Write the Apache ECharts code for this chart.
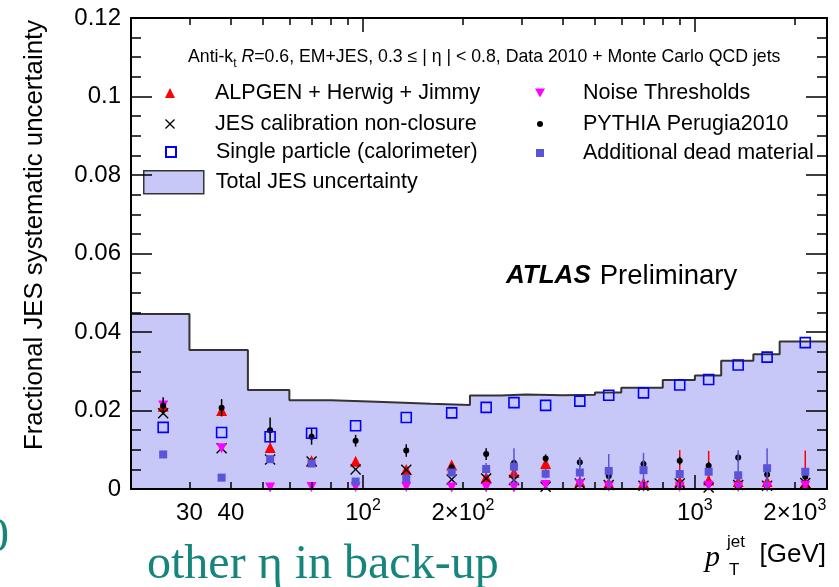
<!DOCTYPE html>
<html>
<head>
<meta charset="utf-8">
<script src="https://cdn.jsdelivr.net/npm/echarts@6/dist/echarts.min.js"></script>
<style>
  html, body { margin: 0; padding: 0; background: #fff; }
  #chart { width: 839px; height: 587px; }
</style>
</head>
<body>
<div id="chart"></div>
<script>
// pT bin edges and centres [GeV]
const ptEdges = [20, 30, 45, 60, 80, 110, 160, 210, 260, 310, 400, 500, 600, 800, 1000, 1200, 1500, 1800, 2500];
const ptCenters = [25, 37.5, 52.5, 70, 95, 135, 185, 235, 285, 355, 450, 550, 700, 900, 1100, 1350, 1650, 2150];

// Total JES uncertainty per bin (filled histogram)
const totalJES = [0.0446, 0.0354, 0.0252, 0.0226, 0.0222, 0.0217, 0.0214, 0.0238, 0.0241, 0.0239, 0.0240, 0.0246, 0.0258, 0.0278, 0.0289, 0.0327, 0.0343, 0.0376];

// Individual contributions
const alpgen = [0.0211, 0.0200, 0.0106, 0.0072, 0.0071, 0.0050, 0.0061, 0.0030, 0.0042, 0.0065, 0.0019, 0.0015, 0.0016, 0.0019, 0.0023, 0.0019, 0.0019, 0.0015];
const alpgenErr = [0, 0, 0, 0, 0, 0, 0, 0, 0, 0, 0, 0, 0, 0.0080, 0.0074, 0, 0, 0.0083];
const jesClosure = [0.0193, 0.0104, 0.0075, 0.0070, 0.0050, 0.0049, 0.0024, 0.0027, 0.0023, 0.0006, 0.0014, 0.0010, 0.0008, 0.0014, 0.0004, 0.0010, 0.0008, 0.0015];
const singleParticle = [0.0157, 0.0144, 0.0133, 0.0142, 0.0161, 0.0182, 0.0194, 0.0208, 0.0220, 0.0213, 0.0224, 0.0239, 0.0245, 0.0265, 0.0279, 0.0316, 0.0336, 0.0373];
const noiseThresholds = [0.0213, 0.0104, 0.0004, 0.0005, 0.0005, 0.0005, 0.0004, 0.0004, 0.0004, 0.0010, 0.0012, 0.0006, 0.0005, 0.0006, 0.0008, 0.0005, 0.0005, 0.0008];
const pythiaPerugia = [0.0212, 0.0207, 0.0150, 0.0133, 0.0123, 0.0098, 0.0055, 0.0089, 0.0066, 0.0078, 0.0068, 0.0033, 0.0064, 0.0072, 0.0059, 0.0080, 0.0037, 0.0031];
const pythiaErr = [0.0022, 0.0022, 0.0032, 0.0020, 0.0015, 0.0016, 0.0010, 0.0015, 0.0010, 0.0010, 0.0012, 0.0010, 0.0010, 0.0010, 0.0010, 0.0010, 0.0010, 0.0010];
const deadMaterial = [0.0088, 0.0029, 0.0076, 0.0065, 0.0019, 0.0027, 0.0042, 0.0051, 0.0057, 0.0039, 0.0042, 0.0046, 0.0048, 0.0038, 0.0044, 0.0035, 0.0053, 0.0044];
const deadErr = [0, 0, 0, 0, 0, 0, 0, 0.0015, 0.0047, 0.0012, 0.0036, 0.0043, 0.0044, 0, 0, 0.0064, 0.0051, 0];

// Axis ticks and labels
const xLabelValues = [30, 40, 100, 200, 1000, 2000];
const xLabelTexts = ['30', '40', '10{sup|2}', '2×10{sup|2}', '10{sup|3}', '2×10{sup|3}'];
const xMinorTicks = [30, 40, 50, 60, 70, 80, 90, 200, 300, 400, 500, 600, 700, 800, 900, 2000];
const xMajorTicks = [100, 1000];

const FONT = '"Liberation Sans", Arial, Helvetica, sans-serif';
const SERIF = '"Liberation Serif", "Times New Roman", serif';
const X_MARK = 'path://M0,0.9 L0.9,0 L5,4.1 L9.1,0 L10,0.9 L5.9,5 L10,9.1 L9.1,10 L5,5.9 L0.9,10 L0,9.1 L4.1,5 Z';
const DOWN_TRIANGLE = 'path://M0,0 L10,0 L5,9 Z';

const NAMES = {
  alpgen: 'ALPGEN + Herwig + Jimmy',
  closure: 'JES calibration non-closure',
  single: 'Single particle (calorimeter)',
  total: 'Total JES uncertainty',
  noise: 'Noise Thresholds',
  pythia: 'PYTHIA Perugia2010',
  dead: 'Additional dead material'
};

const chart = echarts.init(document.getElementById('chart'), null, { renderer: 'canvas' });

function pairs(vals) {
  return ptCenters.map((x, i) => [x, vals[i]]);
}

// Histogram steps: one point at each lower edge, plus the closing upper edge
const histData = ptEdges.map((x, i) => [x, totalJES[Math.min(i, totalJES.length - 1)]]);

function errorBars(id, vals, errs, color, z) {
  const data = [];
  ptCenters.forEach((x, i) => {
    if (errs[i] > 0) data.push([x, Math.max(0, vals[i] - errs[i]), vals[i] + errs[i]]);
  });
  return {
    id: id,
    type: 'custom',
    xAxisIndex: 0,
    yAxisIndex: 0,
    z: z,
    silent: true,
    encode: { x: 0, y: [1, 2] },
    data: data,
    renderItem: function (params, api) {
      const lo = api.coord([api.value(0), api.value(1)]);
      const hi = api.coord([api.value(0), api.value(2)]);
      return {
        type: 'line',
        shape: { x1: lo[0], y1: lo[1], x2: hi[0], y2: hi[1] },
        style: { stroke: color, lineWidth: 1.5 }
      };
    }
  };
}

// Axes are drawn above the filled histogram so the inward ticks stay visible
function xAxis(position, ticks, len, withLabels) {
  return {
    type: 'log',
    logBase: 10,
    min: 20,
    max: 2500,
    position: position,
    z: 10,
    axisLine: { show: true, onZero: false, lineStyle: { color: '#000', width: 2 } },
    axisTick: { show: true, inside: true, length: len, customValues: ticks, lineStyle: { color: '#000', width: 1.5 } },
    minorTick: { show: false },
    splitLine: { show: false },
    minorSplitLine: { show: false },
    axisLabel: withLabels ? {
      show: true,
      customValues: xLabelValues,
      margin: 9,
      color: '#000',
      fontFamily: FONT,
      fontSize: 24,
      lineHeight: 30,
      formatter: function (v) {
        const k = xLabelValues.indexOf(Math.round(v));
        return k >= 0 ? xLabelTexts[k] : '';
      },
      rich: { sup: { fontSize: 16, fontFamily: FONT, color: '#000', verticalAlign: 'top', lineHeight: 30 } }
    } : { show: false }
  };
}

function yAxis(position, withLabels) {
  return {
    type: 'value',
    min: 0,
    max: 0.12,
    interval: 0.02,
    position: position,
    z: 10,
    axisLine: { show: true, onZero: false, lineStyle: { color: '#000', width: 2 } },
    axisTick: { show: true, inside: true, length: 21, lineStyle: { color: '#000', width: 1.5 } },
    minorTick: { show: true, splitNumber: 4, length: 10, lineStyle: { color: '#000', width: 1.5 } },
    splitLine: { show: false },
    minorSplitLine: { show: false },
    axisLabel: withLabels ? { show: true, margin: 10, color: '#000', fontFamily: FONT, fontSize: 24 } : { show: false }
  };
}

function legendEntry(name, cx, cy, w, h, textX, extra) {
  return {
    show: true,
    left: cx - w / 2,
    top: cy - 12,
    padding: 0,
    itemWidth: w,
    itemHeight: h,
    selectedMode: false,
    data: [Object.assign({ name: name }, extra || {})],
    textStyle: {
      fontFamily: FONT,
      fontSize: 21.5,
      lineHeight: 24,
      color: '#000',
      padding: [0, 0, 0, textX - (cx + w / 2) - 5]
    }
  };
}

const option = {
  backgroundColor: '#fff',
  animation: false,
  grid: { left: 131, right: 12, top: 18, bottom: 98, containLabel: false },
  xAxis: [
    xAxis('bottom', xMinorTicks, 7, true),
    xAxis('bottom', xMajorTicks, 14, false),
    xAxis('top', xMinorTicks, 7, false),
    xAxis('top', xMajorTicks, 14, false)
  ],
  yAxis: [yAxis('left', true), yAxis('right', false)],
  legend: [
    legendEntry(NAMES.alpgen, 170, 93, 10, 10, 215),
    legendEntry(NAMES.closure, 170, 124, 10, 10, 215),
    legendEntry(NAMES.single, 170, 152, 10, 10, 215),
    legendEntry(NAMES.total, 173, 182, 60, 23, 215, { icon: 'rect', itemStyle: { color: '#c8c8f8', borderColor: '#333', borderWidth: 1.5 } }),
    legendEntry(NAMES.noise, 540, 93, 10, 10, 583, { icon: DOWN_TRIANGLE }),
    legendEntry(NAMES.pythia, 540, 124, 6, 6, 583),
    legendEntry(NAMES.dead, 540, 153, 8, 8, 583)
  ],
  series: [
    {
      name: NAMES.total,
      type: 'line',
      step: 'end',
      xAxisIndex: 0,
      yAxisIndex: 0,
      data: histData,
      symbol: 'none',
      showSymbol: false,
      z: 1,
      silent: true,
      lineStyle: { color: '#333', width: 2 },
      itemStyle: { color: '#c8c8f8' },
      areaStyle: { color: '#c8c8f8', opacity: 1 }
    },
    errorBars('alpgen-err', alpgen, alpgenErr, '#ff0000', 3),
    {
      name: NAMES.alpgen, type: 'scatter', xAxisIndex: 0, yAxisIndex: 0, z: 3,
      data: pairs(alpgen), symbol: 'triangle', symbolSize: 11,
      itemStyle: { color: '#ff0000', opacity: 1 }
    },
    {
      name: NAMES.closure, type: 'scatter', xAxisIndex: 0, yAxisIndex: 0, z: 4,
      data: pairs(jesClosure), symbol: X_MARK, symbolSize: 11,
      itemStyle: { color: '#000', opacity: 1 }
    },
    {
      name: NAMES.noise, type: 'scatter', xAxisIndex: 0, yAxisIndex: 0, z: 5,
      data: pairs(noiseThresholds), symbol: DOWN_TRIANGLE, symbolSize: 10,
      itemStyle: { color: '#ff00ff', opacity: 1 }
    },
    errorBars('pythia-err', pythiaPerugia, pythiaErr, '#000', 6),
    {
      name: NAMES.pythia, type: 'scatter', xAxisIndex: 0, yAxisIndex: 0, z: 6,
      data: pairs(pythiaPerugia), symbol: 'circle', symbolSize: 6,
      itemStyle: { color: '#000', opacity: 1 }
    },
    errorBars('dead-err', deadMaterial, deadErr, '#5954d8', 7),
    {
      name: NAMES.dead, type: 'scatter', xAxisIndex: 0, yAxisIndex: 0, z: 7,
      data: pairs(deadMaterial), symbol: 'rect', symbolSize: 8,
      itemStyle: { color: '#5954d8', opacity: 1 }
    },
    {
      name: NAMES.single, type: 'scatter', xAxisIndex: 0, yAxisIndex: 0, z: 8,
      data: pairs(singleParticle), symbol: 'rect', symbolSize: 10,
      itemStyle: { color: 'rgba(0,0,0,0)', borderColor: '#0000ff', borderWidth: 1.6, opacity: 1 }
    }
  ],
  graphic: [
    {
      type: 'text', x: 188, y: 57, z: 20,
      style: {
        text: '{a|Anti-k}{s|t}{a| }{i|R}{a|=0.6, EM+JES, 0.3 ≤ | η | < 0.8, Data 2010 + Monte Carlo QCD jets}',
        align: 'left', verticalAlign: 'middle', textAlign: 'left', textVerticalAlign: 'middle',
        rich: {
          a: { fontFamily: FONT, fontSize: 17.7, fill: '#000', color: '#000' },
          i: { fontFamily: FONT, fontSize: 17.7, fontStyle: 'italic', fill: '#000', color: '#000' },
          s: { fontFamily: FONT, fontSize: 12, fill: '#000', color: '#000', verticalAlign: 'bottom', lineHeight: 26 }
        }
      }
    },
    {
      type: 'text', x: 506, y: 276, z: 20,
      style: {
        text: '{b|ATLAS}{r|Preliminary}',
        align: 'left', verticalAlign: 'middle', textAlign: 'left', textVerticalAlign: 'middle',
        rich: {
          b: { fontFamily: FONT, fontSize: 26, fontWeight: 'bold', fontStyle: 'italic', fill: '#000', color: '#000' },
          r: { fontFamily: FONT, fontSize: 27.5, fill: '#000', color: '#000', padding: [0, 0, 0, 9] }
        }
      }
    },
    {
      type: 'text', x: 35, y: 235, rotation: Math.PI / 2, z: 20,
      style: {
        text: 'Fractional JES systematic uncertainty',
        font: '25.8px ' + FONT, fill: '#000',
        align: 'center', verticalAlign: 'middle', textAlign: 'center', textVerticalAlign: 'middle'
      }
    },
    {
      type: 'text', x: 705, y: 558, z: 20,
      style: { text: 'p', font: 'italic 30px ' + SERIF, fill: '#000', align: 'left', verticalAlign: 'middle', textAlign: 'left', textVerticalAlign: 'middle' }
    },
    {
      type: 'text', x: 727, y: 542, z: 20,
      style: { text: 'jet', font: '17px ' + FONT, fill: '#000', align: 'left', verticalAlign: 'middle', textAlign: 'left', textVerticalAlign: 'middle' }
    },
    {
      type: 'text', x: 729, y: 570, z: 20,
      style: { text: 'T', font: '17px ' + FONT, fill: '#000', align: 'left', verticalAlign: 'middle', textAlign: 'left', textVerticalAlign: 'middle' }
    },
    {
      type: 'text', x: 826, y: 555, z: 20,
      style: { text: '[GeV]', font: '26px ' + FONT, fill: '#000', align: 'right', verticalAlign: 'middle', textAlign: 'right', textVerticalAlign: 'middle' }
    },
    {
      type: 'text', x: 147, y: 565, z: 20,
      style: { text: 'other η in back-up', font: '48px ' + SERIF, fill: '#16857c', align: 'left', verticalAlign: 'middle', textAlign: 'left', textVerticalAlign: 'middle' }
    },
    {
      type: 'text', x: -15, y: 538, z: 20,
      style: { text: '0', font: '48px ' + SERIF, fill: '#16857c', align: 'left', verticalAlign: 'middle', textAlign: 'left', textVerticalAlign: 'middle' }
    }
  ]
};

chart.setOption(option);
</script>
</body>
</html>
